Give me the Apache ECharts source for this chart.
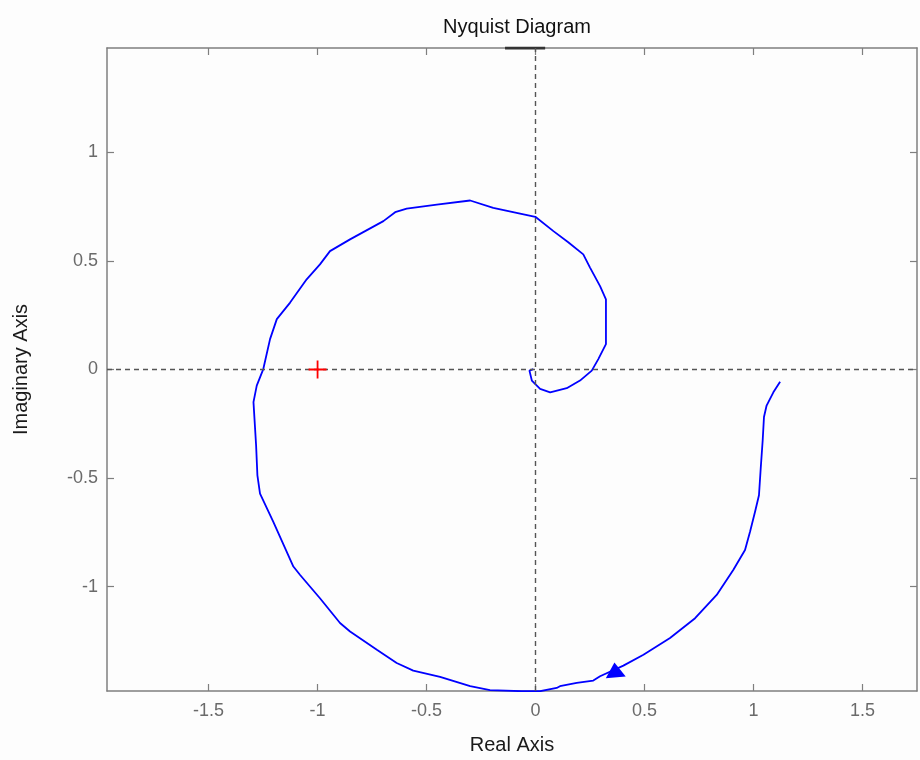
<!DOCTYPE html>
<html>
<head>
<meta charset="utf-8">
<title>Nyquist Diagram</title>
<script src="https://cdn.jsdelivr.net/npm/echarts@6/dist/echarts.min.js"></script>
<style>
  html, body { margin: 0; padding: 0; background: #fdfdfd; }
  #chart { width: 920px; height: 760px; }
</style>
</head>
<body>
<div id="chart"></div>
<script>
// Nyquist locus, traced from low frequency (right) spiralling into the origin
const realPart = [1.122, 1.091, 1.060, 1.048, 1.042, 1.033, 1.025, 1.007, 0.984, 0.961,
  0.907, 0.831, 0.732, 0.617, 0.495, 0.403, 0.296, 0.265, 0.189, 0.112,
  0.097, 0.021, -0.063, -0.209, -0.300, -0.438, -0.561, -0.637, -0.728, -0.851,
  -0.897, -0.989, -1.080, -1.111, -1.203, -1.264, -1.276, -1.282, -1.294, -1.279,
  -1.249, -1.218, -1.187, -1.126, -1.050, -0.989, -0.943, -0.851, -0.698, -0.644,
  -0.591, -0.453, -0.300, -0.194, -0.071, -0.001, 0.082, 0.150, 0.219, 0.250,
  0.296, 0.323, 0.323, 0.288, 0.258, 0.204, 0.143, 0.067, 0.021, -0.017,
  -0.028, -0.010];
const imagPart = [-0.056, -0.105, -0.166, -0.219, -0.327, -0.456, -0.579, -0.655, -0.747, -0.831,
  -0.923, -1.038, -1.145, -1.236, -1.313, -1.363, -1.412, -1.432, -1.443, -1.458,
  -1.466, -1.481, -1.481, -1.476, -1.458, -1.415, -1.386, -1.351, -1.290, -1.206,
  -1.167, -1.053, -0.946, -0.907, -0.701, -0.571, -0.487, -0.349, -0.150, -0.074,
  0.002, 0.140, 0.232, 0.308, 0.415, 0.484, 0.545, 0.599, 0.683, 0.724,
  0.741, 0.759, 0.778, 0.744, 0.718, 0.703, 0.637, 0.586, 0.530, 0.469,
  0.384, 0.323, 0.117, 0.048, -0.005, -0.051, -0.086, -0.105, -0.089, -0.051,
  -0.005, 0.002];

// direction arrow on the locus
const arrowPoint = [0.365, -1.383];
// critical point -1 + 0j
const criticalPoint = [-1, 0];
// mirrored branch where it meets the upper edge of the axes
const mirrorEdge = [[-0.14, 1.48], [0.044, 1.48]];

const xTicks = [-1.5, -1, -0.5, 0, 0.5, 1, 1.5];
const yTicks = [-1, -0.5, 0, 0.5, 1];
const xRange = [-1.966, 1.75];
const yRange = [-1.48, 1.48];

const locus = realPart.map((re, i) => [re, imagPart[i]]);

const FONT = "'Liberation Sans', Arial, sans-serif";
const AXIS_GRAY = '#7f7f7f';

function boxAxis(kind, position, range, ticks, showLabels, extra) {
  return Object.assign({
    type: 'value',
    position: position,
    min: range[0],
    max: range[1],
    axisLine: { show: true, onZero: false, lineStyle: { color: AXIS_GRAY, width: 1.5 } },
    axisTick: { show: true, inside: true, length: 7, customValues: ticks,
      lineStyle: { color: AXIS_GRAY, width: 1.2 } },
    axisLabel: { show: showLabels, customValues: ticks, color: '#6a6a6a',
      fontFamily: FONT, fontSize: 18, margin: kind === 'x' ? 11 : 9 },
    splitLine: { show: false }
  }, extra || {});
}

const chart = echarts.init(document.getElementById('chart'), null, { renderer: 'canvas' });

chart.setOption({
  backgroundColor: '#fdfdfd',
  animation: false,
  title: {
    text: 'Nyquist Diagram',
    left: 512,
    textAlign: 'center',
    top: 12,
    textStyle: { fontFamily: FONT, fontSize: 20, fontWeight: 'normal', color: '#111' }
  },
  grid: { left: 107, right: 3, top: 48, bottom: 67 },
  xAxis: [
    boxAxis('x', 'bottom', xRange, xTicks, true, {
      name: 'Real Axis', nameLocation: 'middle', nameGap: 44,
      nameTextStyle: { fontFamily: FONT, fontSize: 20, color: '#1a1a1a' }
    }),
    boxAxis('x', 'top', xRange, xTicks, false)
  ],
  yAxis: [
    boxAxis('y', 'left', yRange, yTicks, true, {
      name: 'Imaginary Axis', nameLocation: 'middle', nameGap: 76, nameRotate: 90,
      nameTextStyle: { fontFamily: FONT, fontSize: 20, color: '#1a1a1a' }
    }),
    boxAxis('y', 'right', yRange, yTicks, false)
  ],
  series: [
    {
      type: 'line',
      data: locus,
      showSymbol: false,
      clip: true,
      lineStyle: { color: '#0000ff', width: 1.8 },
      markLine: {
        silent: true,
        symbol: ['none', 'none'],
        label: { show: false },
        lineStyle: { color: '#555', width: 1.4, type: [5, 4] },
        data: [{ xAxis: 0 }, { yAxis: 0 }]
      },
      z: 3
    },
    {
      type: 'line',
      data: mirrorEdge,
      showSymbol: false,
      lineStyle: { color: '#333', width: 3 },
      z: 4
    },
    {
      type: 'scatter',
      data: [arrowPoint],
      symbol: 'triangle',
      symbolSize: [20, 15],
      symbolRotate: 5,
      itemStyle: { color: '#0000ff', opacity: 1 },
      z: 5
    },
    {
      type: 'scatter',
      data: [criticalPoint],
      symbol: 'path://M4.5,0h1v4.5h4.5v1h-4.5v4.5h-1v-4.5h-4.5v-1h4.5z',
      symbolSize: 18,
      itemStyle: { color: '#ff0000', opacity: 1 },
      z: 5
    }
  ]
});
</script>
</body>
</html>
